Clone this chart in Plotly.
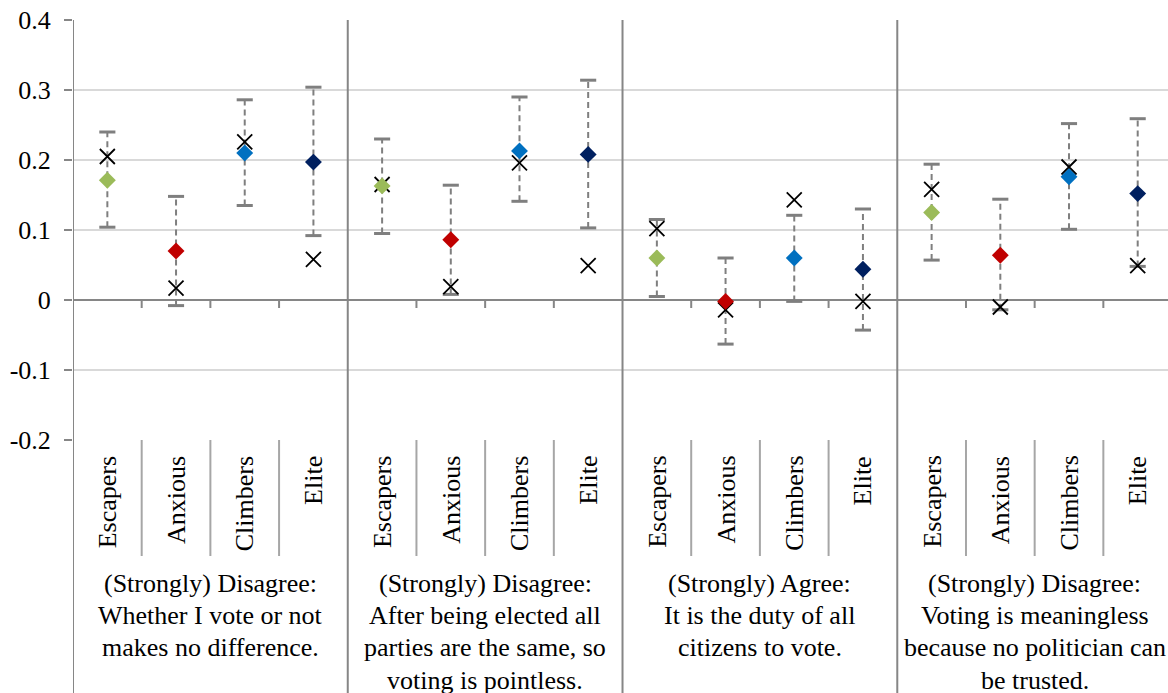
import plotly.graph_objects as go

# Segments (attitudinal groups) and survey statements
categories = ["Escapers", "Anxious", "Climbers", "Elite"]
statements = [
    ["(Strongly) Disagree:", "Whether I vote or not", "makes no difference."],
    ["(Strongly) Disagree:", "After being elected all", "parties are the same, so", "voting is pointless."],
    ["(Strongly) Agree:", "It is the duty of all", "citizens to vote."],
    ["(Strongly) Disagree:", "Voting is meaningless", "because no politician can", "be trusted."],
]

# Point estimates per statement (rows) and segment (columns)
estimate = [
    [0.171, 0.070, 0.210, 0.197],
    [0.163, 0.086, 0.213, 0.208],
    [0.060, -0.002, 0.060, 0.044],
    [0.125, 0.064, 0.176, 0.152],
]
# Confidence interval bounds
ci_high = [
    [0.240, 0.148, 0.286, 0.304],
    [0.230, 0.164, 0.290, 0.314],
    [0.115, 0.060, 0.121, 0.130],
    [0.194, 0.144, 0.252, 0.259],
]
ci_low = [
    [0.104, -0.008, 0.135, 0.092],
    [0.095, 0.008, 0.141, 0.103],
    [0.005, -0.063, -0.002, -0.043],
    [0.057, -0.014, 0.101, 0.048],
]
# Comparison estimates (crosses)
comparison = [
    [0.205, 0.017, 0.226, 0.058],
    [0.165, 0.019, 0.196, 0.049],
    [0.102, -0.014, 0.143, -0.002],
    [0.158, -0.010, 0.190, 0.049],
]

colors = ["#9BBB59", "#C00000", "#0070C0", "#002060"]
FONT = "Times New Roman, Liberation Serif, DejaVu Serif, serif"
GRAY = "#868686"
n_groups = len(statements)
n_cat = len(categories)

W, H = 1168, 693
ML, MT, MB = 73, 20, 253
plot_h = H - MT - MB
unit_px = 68.69
x_max = -0.5 + (W - ML) / unit_px

fig = go.Figure()

# Dashed confidence-interval whiskers
for c in range(n_cat):
    xs, ys = [], []
    for g in range(n_groups):
        xpos = g * n_cat + c
        xs += [xpos, xpos, None]
        ys += [ci_low[g][c], ci_high[g][c], None]
    fig.add_trace(go.Scatter(
        x=xs, y=ys, mode="lines",
        line=dict(color="#7F7F7F", width=2, dash="6px,4px"),
        hoverinfo="skip", showlegend=False))
    xc = [g * n_cat + c for g in range(n_groups)]
    fig.add_trace(go.Scatter(
        x=xc + xc,
        y=[ci_low[g][c] for g in range(n_groups)] + [ci_high[g][c] for g in range(n_groups)],
        mode="markers",
        marker=dict(symbol="line-ew", size=11.5, line=dict(color="#7F7F7F", width=3)),
        hoverinfo="skip", showlegend=False))

# Comparison crosses
for c in range(n_cat):
    fig.add_trace(go.Scatter(
        x=[g * n_cat + c for g in range(n_groups)],
        y=[comparison[g][c] for g in range(n_groups)],
        mode="markers",
        marker=dict(symbol="x-thin", size=15, line=dict(color="black", width=1.8)),
        showlegend=False))

# Segment estimates (diamonds)
for c in range(n_cat):
    fig.add_trace(go.Scatter(
        x=[g * n_cat + c for g in range(n_groups)],
        y=[estimate[g][c] for g in range(n_groups)],
        mode="markers", name=categories[c],
        marker=dict(symbol="diamond", size=13, color=colors[c], line=dict(width=0)),
        showlegend=False))

shapes = []
bottom = -MB / plot_h
# Left axis line extended through label area
shapes.append(dict(type="line", xref="x", yref="paper", x0=-0.5, x1=-0.5, y0=1, y1=bottom,
                   line=dict(color=GRAY, width=2)))
for g in range(n_groups):
    # Statement separators
    if g > 0:
        xb = g * n_cat - 0.5
        shapes.append(dict(type="line", xref="x", yref="paper", x0=xb, x1=xb, y0=1, y1=bottom,
                           line=dict(color=GRAY, width=2)))
    for c in range(1, n_cat):
        xb = g * n_cat + c - 0.5
        # Short ticks below the zero line
        shapes.append(dict(type="line", xref="x", yref="y", ysizemode="pixel", yanchor=0,
                           x0=xb, x1=xb, y0=0, y1=-8, line=dict(color=GRAY, width=2)))
        # Segment separators in the label band
        shapes.append(dict(type="line", xref="x", yref="paper", x0=xb, x1=xb,
                           y0=0, y1=-116 / plot_h, line=dict(color="#A6A6A6", width=2)))

annotations = []
line_gap = 32.4
first_line = 583 - (H - MB)
for g in range(n_groups):
    for c in range(n_cat):
        annotations.append(dict(
            x=g * n_cat + c, xref="x", y=-14 / plot_h, yref="paper",
            text=categories[c], textangle=-90, showarrow=False,
            xanchor="center", yanchor="top",
            font=dict(family=FONT, size=26, color="black")))
    for i, line in enumerate(statements[g]):
        annotations.append(dict(
            x=g * n_cat + 1.5, xref="x",
            y=-(first_line + i * line_gap) / plot_h, yref="paper",
            text=line, showarrow=False, xanchor="center", yanchor="middle",
            font=dict(family=FONT, size=26, color="black")))

fig.update_layout(
    width=W, height=H,
    margin=dict(l=ML, r=0, t=MT, b=MB),
    paper_bgcolor="white", plot_bgcolor="white",
    shapes=shapes, annotations=annotations,
    xaxis=dict(range=[-0.5, x_max], showgrid=False, zeroline=False,
               showticklabels=False, ticks="", showline=False, fixedrange=True),
    yaxis=dict(range=[-0.2, 0.4], tickvals=[-0.2, -0.1, 0, 0.1, 0.2, 0.3, 0.4],
               ticktext=["-0.2", "-0.1", "0", "0.1", "0.2", "0.3", "0.4"],
               showgrid=True, gridcolor="#D9D9D9", gridwidth=2,
               zeroline=True, zerolinecolor=GRAY, zerolinewidth=2,
               showline=False, ticks="outside", ticklen=8, tickwidth=2, tickcolor=GRAY,
               ticklabelstandoff=8,
               tickfont=dict(family=FONT, size=26, color="black")),
)

fig.write_html("out.html")
